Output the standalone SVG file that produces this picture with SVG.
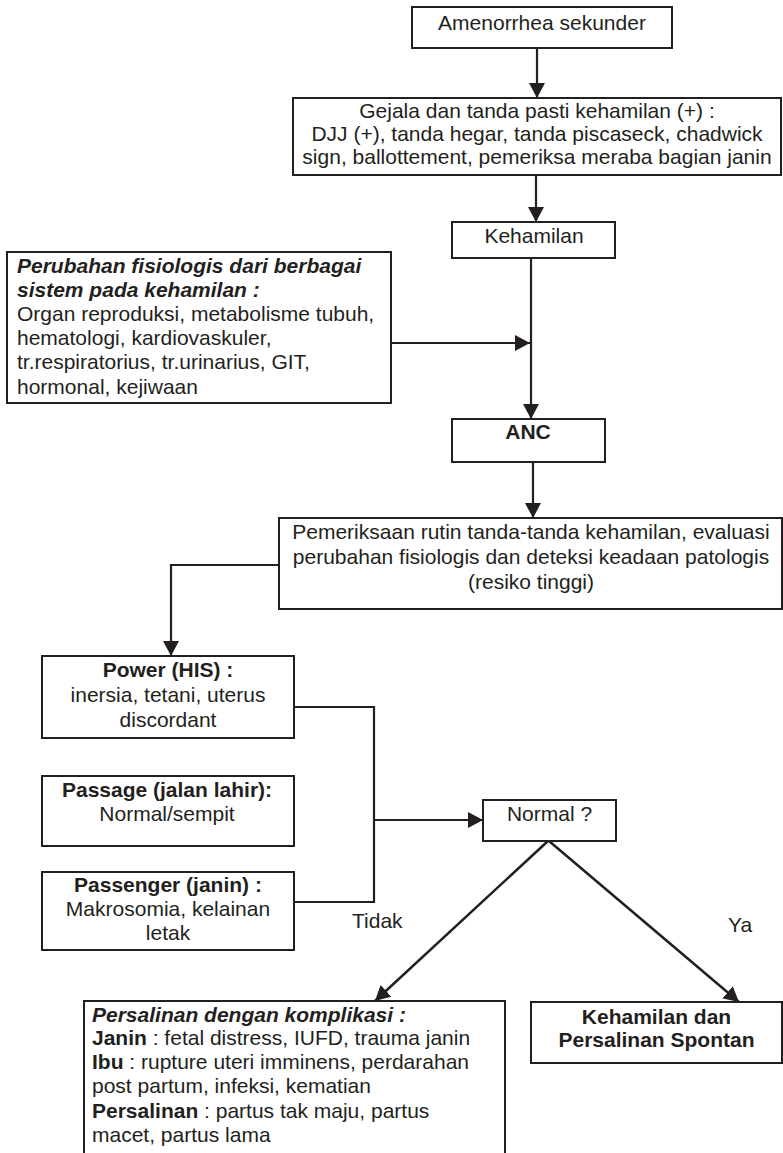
<svg xmlns="http://www.w3.org/2000/svg" width="783" height="1153" viewBox="0 0 783 1153">
  <style>
    .box { fill: #ffffff; stroke: #231f20; stroke-width: 2; }
    .wire { fill: none; stroke: #231f20; stroke-width: 2.2; }
    .diag { fill: none; stroke: #231f20; stroke-width: 2.5; }
    text { font-family: "Liberation Sans", Arial, sans-serif; font-size: 21px; fill: #231f20; }
    .c { text-anchor: middle; }
    .b { font-weight: bold; }
    .bi { font-weight: bold; font-style: italic; }
  </style>
  <defs>
    <marker id="arrow" viewBox="0 0 15 16" refX="15" refY="8" markerWidth="15" markerHeight="16" markerUnits="userSpaceOnUse" orient="auto">
      <path d="M0,0 L15,8 L0,16 z" fill="#231f20"/>
    </marker>
  </defs>

  <!-- connectors -->
  <g id="connectors">
    <line class="wire" x1="537" y1="48" x2="537" y2="98" marker-end="url(#arrow)"/>
    <line class="wire" x1="536" y1="175" x2="536" y2="222" marker-end="url(#arrow)"/>
    <line class="wire" x1="531" y1="258" x2="531" y2="419" marker-end="url(#arrow)"/>
    <line class="wire" x1="391" y1="343" x2="530" y2="343" marker-end="url(#arrow)"/>
    <line class="wire" x1="533" y1="462" x2="533" y2="518" marker-end="url(#arrow)"/>
    <path class="wire" d="M279,565 H171 V656" marker-end="url(#arrow)"/>
    <path class="wire" d="M294,707 H374 V902 H294"/>
    <line class="wire" x1="374" y1="820" x2="483" y2="820" marker-end="url(#arrow)"/>
    <line class="diag" x1="548" y1="841" x2="375" y2="1001" marker-end="url(#arrow)"/>
    <line class="diag" x1="549" y1="841" x2="739" y2="1002" marker-end="url(#arrow)"/>
    <text x="352" y="928">Tidak</text>
    <text x="728" y="932">Ya</text>
  </g>

  <g id="amenorrhea">
    <rect class="box" x="412" y="7" width="260" height="41"/>
    <text class="c" x="542" y="30">Amenorrhea sekunder</text>
  </g>

  <g id="gejala">
    <rect class="box" x="293" y="98" width="488" height="77"/>
    <text class="c" x="537" y="118">Gejala dan tanda pasti kehamilan (+) :</text>
    <text class="c" x="537" y="141">DJJ (+), tanda hegar, tanda piscaseck, chadwick</text>
    <text class="c" x="537" y="164">sign, ballottement, pemeriksa meraba bagian janin</text>
  </g>

  <g id="kehamilan">
    <rect class="box" x="452" y="222" width="163" height="36"/>
    <text class="c" x="534" y="243">Kehamilan</text>
  </g>

  <g id="perubahan">
    <rect class="box" x="7" y="252" width="384" height="151"/>
    <text class="bi" x="17" y="273">Perubahan fisiologis dari berbagai</text>
    <text class="bi" x="17" y="297">sistem pada kehamilan :</text>
    <text x="17" y="321">Organ reproduksi, metabolisme tubuh,</text>
    <text x="17" y="345">hematologi, kardiovaskuler,</text>
    <text x="17" y="369">tr.respiratorius, tr.urinarius, GIT,</text>
    <text x="17" y="394">hormonal, kejiwaan</text>
  </g>

  <g id="anc">
    <rect class="box" x="452" y="419" width="153" height="43"/>
    <text class="c b" x="528" y="439">ANC</text>
  </g>

  <g id="pemeriksaan">
    <rect class="box" x="279" y="518" width="503" height="91"/>
    <text class="c" x="531" y="539">Pemeriksaan rutin tanda-tanda kehamilan, evaluasi</text>
    <text class="c" x="531" y="564">perubahan fisiologis dan deteksi keadaan patologis</text>
    <text class="c" x="531" y="589">(resiko tinggi)</text>
  </g>

  <g id="power">
    <rect class="box" x="42" y="656" width="252" height="82"/>
    <text class="c b" x="168" y="677">Power (HIS) :</text>
    <text class="c" x="168" y="702">inersia, tetani, uterus</text>
    <text class="c" x="168" y="727">discordant</text>
  </g>

  <g id="passage">
    <rect class="box" x="42" y="776" width="252" height="70"/>
    <text class="c b" x="167" y="797">Passage (jalan lahir):</text>
    <text class="c" x="167" y="821">Normal/sempit</text>
  </g>

  <g id="passenger">
    <rect class="box" x="42" y="872" width="252" height="78"/>
    <text class="c b" x="168" y="892">Passenger (janin) :</text>
    <text class="c" x="168" y="916">Makrosomia, kelainan</text>
    <text class="c" x="168" y="940">letak</text>
  </g>

  <g id="normal">
    <rect class="box" x="483" y="800" width="133" height="41"/>
    <text class="c" x="549.5" y="821">Normal ?</text>
  </g>

  <g id="komplikasi">
    <rect class="box" x="84" y="1001" width="421" height="170"/>
    <text class="bi" x="92" y="1022">Persalinan dengan komplikasi :</text>
    <text x="92" y="1045"><tspan class="b">Janin</tspan> : fetal distress, IUFD, trauma janin</text>
    <text x="92" y="1069"><tspan class="b">Ibu</tspan> : rupture uteri imminens, perdarahan</text>
    <text x="92" y="1093">post partum, infeksi, kematian</text>
    <text x="92" y="1118"><tspan class="b">Persalinan</tspan> : partus tak maju, partus</text>
    <text x="92" y="1142">macet, partus lama</text>
  </g>

  <g id="spontan">
    <rect class="box" x="531" y="1002" width="251" height="61"/>
    <text class="c b" x="656.5" y="1024">Kehamilan dan</text>
    <text class="c b" x="656.5" y="1047">Persalinan Spontan</text>
  </g>
</svg>
